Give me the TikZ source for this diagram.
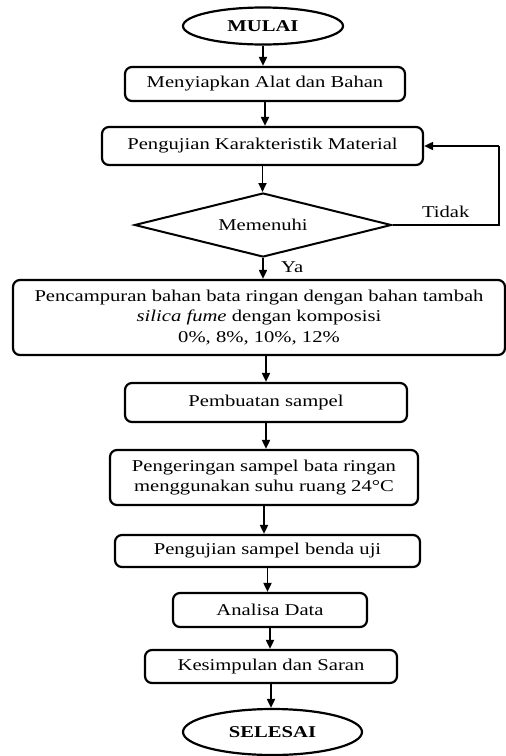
\documentclass[tikz,border=0pt]{standalone}
\usepackage{fontspec}
\setmainfont{Liberation Serif}[FakeStretch=1.25]
\usetikzlibrary{shapes.geometric, arrows.meta, positioning}

\tikzset{
  proses/.style={draw, line width=2.2pt, rounded corners=7pt, align=center, inner sep=2pt},
  terminal/.style={draw, ellipse, line width=2.2pt, inner sep=0pt},
  keputusan/.style={draw, diamond, shape aspect=4, line width=2pt, inner sep=0pt},
  panah/.style={line width=1.8pt, -{Triangle[length=9pt, width=8pt]}},
  garis/.style={line width=1.8pt}
}

\begin{document}
\begin{tikzpicture}[x=1pt, y=1pt, font=\fontsize{16.5}{20.5}\selectfont]
  \useasboundingbox (0,0) rectangle (506,-756);

  % Terminal awal
  \node[terminal, minimum width=160pt, minimum height=37pt] (mulai) at (263,-26) {\textbf{MULAI}};

  % Proses
  \node[proses, minimum width=280pt, minimum height=34pt] (siap) at (265,-84) {Menyiapkan Alat dan Bahan};
  \node[proses, minimum width=321pt, minimum height=38pt] (uji) at (262.5,-146) {Pengujian Karakteristik Material};

  % Keputusan
  \node[keputusan, minimum width=257pt, minimum height=64pt] (syarat) at (263,-225) {Memenuhi};

  \node[proses, minimum width=492pt, minimum height=75pt] (campur) at (259,-317.5)
    {Pencampuran bahan bata ringan dengan bahan tambah\\ \textit{silica fume} dengan komposisi\\ 0\%, 8\%, 10\%, 12\%};
  \node[proses, minimum width=282pt, minimum height=39pt] (buat) at (266,-402.5) {Pembuatan sampel};
  \node[proses, minimum width=308pt, minimum height=55pt] (kering) at (264,-477.5)
    {Pengeringan sampel bata ringan\\ menggunakan suhu ruang 24°C};
  \node[proses, minimum width=305pt, minimum height=32pt] (ujisampel) at (267.5,-551) {Pengujian sampel benda uji};
  \node[proses, minimum width=194pt, minimum height=34pt] (analisa) at (270,-610) {Analisa Data};
  \node[proses, minimum width=252pt, minimum height=33pt] (simpul) at (271,-666.5) {Kesimpulan dan Saran};

  % Terminal akhir
  \node[terminal, minimum width=179pt, minimum height=46pt] (selesai) at (272.5,-732) {\textbf{SELESAI}};

  % Alur
  \draw[panah] (mulai.south) -- (mulai.south |- siap.north);
  \draw[panah] (siap.south) -- (siap.south |- uji.north);
  \draw[panah] (uji.south) -- (uji.south |- syarat.north);
  \draw[panah] (syarat.south) -- node[right=14pt, pos=0.45] (ya) {Ya} (syarat.south |- campur.north);
  \draw[panah] (campur.south -| buat.north) -- (buat.north);
  \draw[panah] (buat.south) -- (buat.south |- kering.north);
  \draw[panah] (kering.south) -- (kering.south |- ujisampel.north);
  \draw[panah] (ujisampel.south) -- (ujisampel.south |- analisa.north);
  \draw[panah] (analisa.south) -- (analisa.south |- simpul.north);
  \draw[panah] (simpul.south) -- (simpul.south |- selesai.north);

  % Umpan balik
  \coordinate (balik) at (499,-146);
  \draw[garis] (syarat.east) -- node[above=3pt] (tidak) {Tidak} (syarat.east -| balik) -- (balik);
  \draw[panah] (balik) -- (uji.east);
\end{tikzpicture}
\end{document}
